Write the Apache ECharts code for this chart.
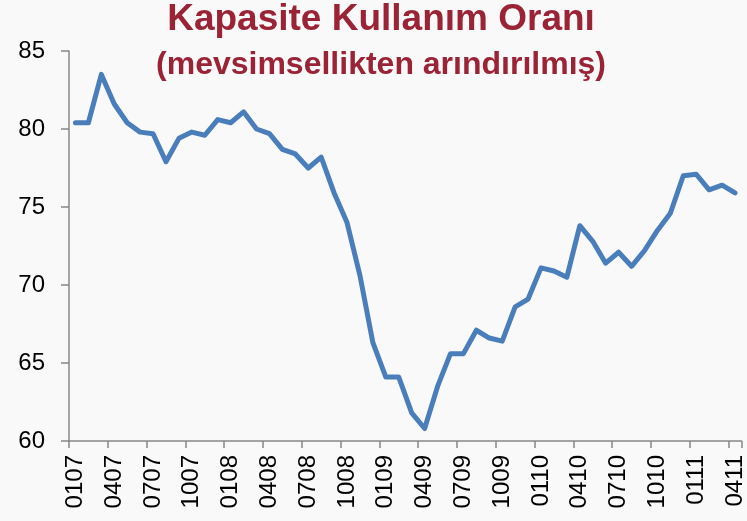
<!DOCTYPE html>
<html>
<head>
<meta charset="utf-8">
<script src="https://cdn.jsdelivr.net/npm/echarts@6/dist/echarts.min.js"></script>
<style>
html,body{margin:0;padding:0;background:#F9F9F9;}
#c{width:747px;height:521px;}
</style>
</head>
<body>
<div id="c"></div>
<script>
const titleText = "Kapasite Kullanım Oranı";
const subtitleText = "(mevsimsellikten arındırılmış)";
const categories = [
  "0107","0207","0307","0407","0507","0607","0707","0807","0907","1007","1107","1207",
  "0108","0208","0308","0408","0508","0608","0708","0808","0908","1008","1108","1208",
  "0109","0209","0309","0409","0509","0609","0709","0809","0909","1009","1109","1209",
  "0110","0210","0310","0410","0510","0610","0710","0810","0910","1010","1110","1210",
  "0111","0211","0311","0411"
];
const values = [
  80.4, 80.4, 83.5, 81.6, 80.4, 79.8, 79.7, 77.9, 79.4, 79.8, 79.6, 80.6,
  80.4, 81.1, 80.0, 79.7, 78.7, 78.4, 77.5, 78.2, 75.9, 74.0, 70.6, 66.3,
  64.1, 64.1, 61.8, 60.8, 63.5, 65.6, 65.6, 67.1, 66.6, 66.4, 68.6, 69.1,
  71.1, 70.9, 70.5, 73.8, 72.8, 71.4, 72.1, 71.2, 72.2, 73.5, 74.6, 77.0,
  77.1, 76.1, 76.4, 75.9
];
const yMin = 60, yMax = 85, yStep = 5;

const chart = echarts.init(document.getElementById('c'));
chart.setOption({
  backgroundColor: '#F9F9F9',
  animation: false,
  graphic: [
    { type: 'text', x: 381, y: 20, style: { text: titleText, fill: '#9A2436',
      font: 'bold 37px "Liberation Sans", Arial, sans-serif', textAlign: 'center', textVerticalAlign: 'middle' } },
    { type: 'text', x: 381, y: 65, style: { text: subtitleText, fill: '#9A2436',
      font: 'bold 32px "Liberation Sans", Arial, sans-serif', textAlign: 'center', textVerticalAlign: 'middle' } }
  ],
  grid: { left: 69, right: 5, top: 51, bottom: 80, containLabel: false },
  xAxis: {
    type: 'category',
    data: categories,
    boundaryGap: true,
    axisLine: { lineStyle: { color: '#878787', width: 1.5 } },
    axisTick: { show: true, interval: 2, alignWithLabel: false, length: 7, lineStyle: { color: '#878787', width: 1.5 } },
    axisLabel: { interval: 2, rotate: 90, margin: 14, color: '#000',
      fontFamily: '"Liberation Sans", Arial, sans-serif', fontSize: 24 },
    splitLine: { show: false }
  },
  yAxis: {
    type: 'value',
    min: yMin, max: yMax, interval: yStep,
    axisLine: { show: true, lineStyle: { color: '#878787', width: 1.5 } },
    axisTick: { show: true, length: 8, lineStyle: { color: '#878787', width: 1.5 } },
    axisLabel: { margin: 24, color: '#000',
      fontFamily: '"Liberation Sans", Arial, sans-serif', fontSize: 24 },
    splitLine: { show: false }
  },
  series: [{
    type: 'line',
    data: values,
    symbol: 'none',
    lineStyle: { color: '#4A7EBB', width: 5, join: 'round', cap: 'round' },
    itemStyle: { color: '#4A7EBB' }
  }]
});
</script>
</body>
</html>
